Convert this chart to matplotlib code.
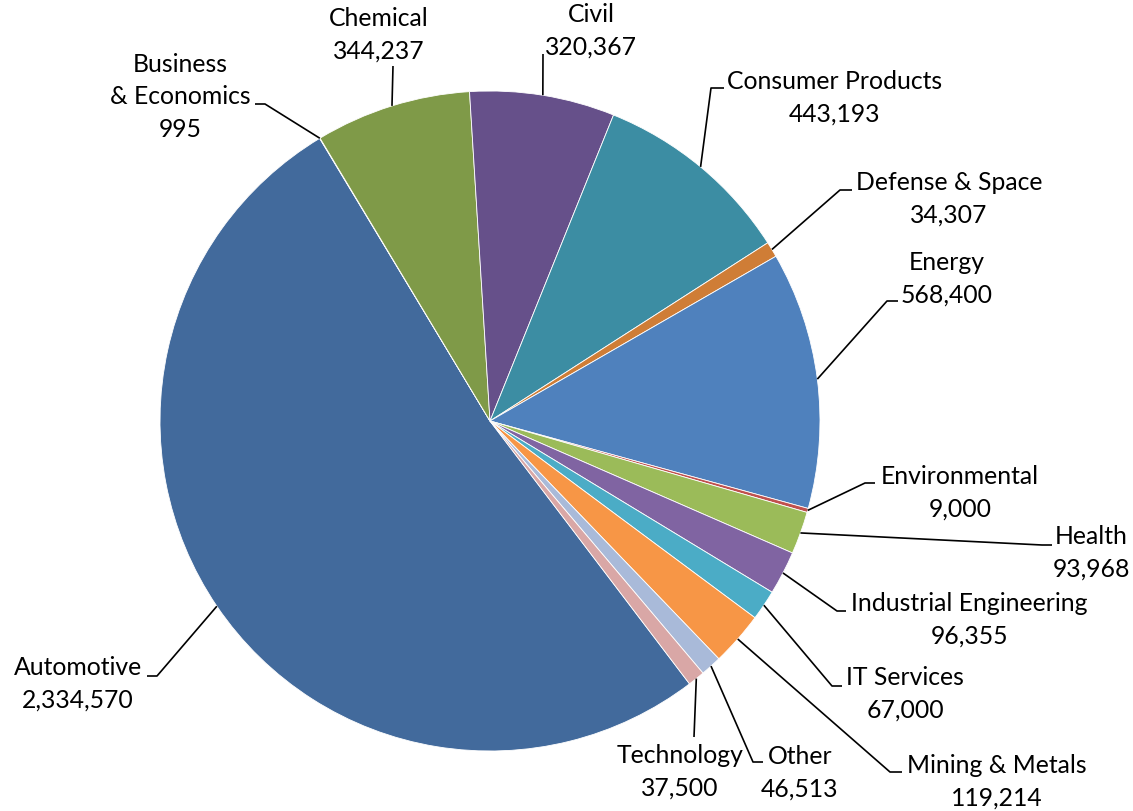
import numpy as np
import matplotlib.pyplot as plt

# ---------------- data ----------------
sectors = ['Automotive', 'Business\n& Economics', 'Chemical', 'Civil',
           'Consumer Products', 'Defense & Space', 'Energy', 'Environmental',
           'Health', 'Industrial Engineering', 'IT Services', 'Mining & Metals',
           'Other', 'Technology']
values = [2334570, 995, 344237, 320367, 443193, 34307, 568400, 9000,
          93968, 96355, 67000, 119214, 46513, 37500]
colors = ['#426A9C', '#9E413E', '#7F9A48', '#66508A', '#3C8DA3', '#CF7D36',
          '#4F81BD', '#C0504D', '#9BBB59', '#8064A2', '#4BACC6', '#F79646',
          '#A9BAD9', '#D9A7A6']

# label layout in pixels from top left: text centre, elbow of leader, end of short hook
text_xy = [(78, 684), (180, 97), (379, 35), (591, 31), (835, 98), (949, 199),
           (947, 279), (960, 493), (1091, 553), (969, 620), (905, 694),
           (997, 782), (800, 773), (680, 772)]
elbow_xy = [(157, 677), (265, 105), (393, 67), (543, 55), (711, 89), (840, 191),
            (887, 302), (865, 484), (1042, 546), (837, 612), (832, 687),
            (890, 773), (753, 763), (694, 738)]
hook_xy = [(147, 677), (255, 105), (393, 67), (543, 55), (724, 89), (852, 191),
           (898, 302), (875, 484), (1052, 546), (846, 612), (842, 687),
           (902, 773), (763, 763), (694, 738)]

W, H = 1133, 812
cx, cy, R = 490, H - 422, 330

fig = plt.figure(figsize=(11.33, 8.12), dpi=100)
ax = fig.add_axes([0, 0, 1, 1])

wedges, _ = ax.pie(values, colors=colors, startangle=307.2, counterclock=False,
                   center=(cx, cy), radius=R,
                   wedgeprops=dict(edgecolor='white', linewidth=0.6))

for i, w in enumerate(wedges):
    mid = np.deg2rad((w.theta1 + w.theta2) / 2)
    px, py = cx + R * np.cos(mid), cy + R * np.sin(mid)
    ex, ey = elbow_xy[i]
    hx, hy = hook_xy[i]
    ax.plot([px, ex, hx], [py, H - ey, H - hy], color='black', lw=1.2,
            solid_capstyle='butt')
    label = sectors[i] + '\n' + f'{values[i]:,}'
    ax.text(text_xy[i][0], H - text_xy[i][1], label, ha='center', va='center',
            fontsize=17.8, family='Lato', linespacing=1.5, color='black')

ax.set_xlim(0, W)
ax.set_ylim(0, H)
ax.set_aspect('equal')
ax.axis('off')

plt.savefig('out.png', dpi=100)
